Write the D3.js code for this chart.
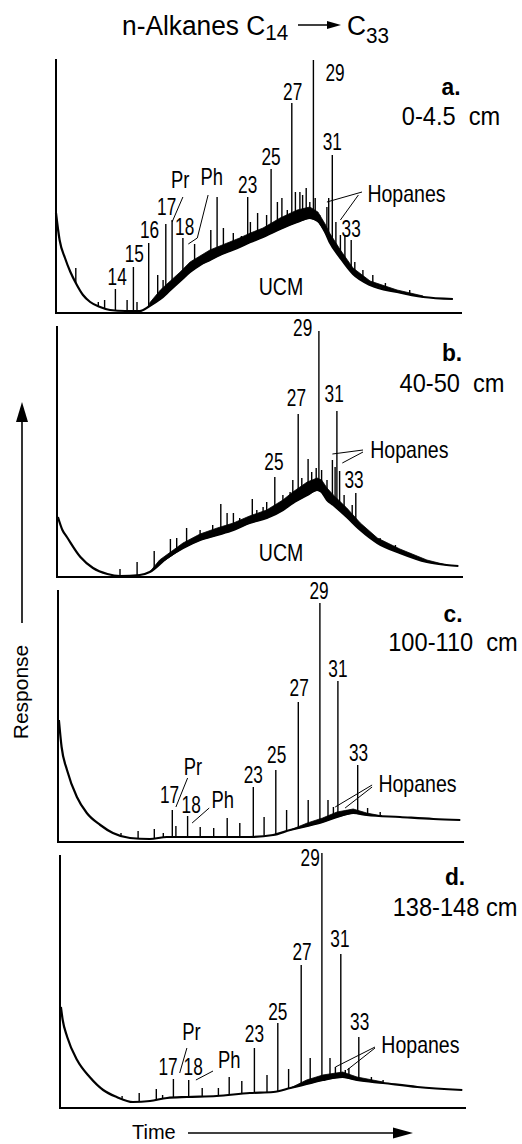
<!DOCTYPE html>
<html>
<head>
<meta charset="utf-8">
<script src="https://cdn.jsdelivr.net/npm/d3@7"></script>
<style>
body { margin: 0; background: #fff; }
svg { display: block; }
text { font-family: "Liberation Sans", Arial, Helvetica, sans-serif; fill: #000; white-space: pre; }
</style>
</head>
<body>
<svg id="chart" width="522" height="1144"></svg>
<script>
// panel names and core depths
var panelLetters = ["a", "b", "c", "d"];
var panelDepths = ["0-4.5  cm", "40-50  cm", "100-110  cm", "138-148 cm"];

// baseline / UCM hump of each trace: [time (min), response (%)]
var baselineA = [[0,40.0],[0.4,29.2],[1.0,22.0],[1.6,16.4],[2.2,12.0],[3.0,7.2],[3.8,4.4],[4.9,2.4],[6.0,1.2],[7.7,0.8],[9.3,0.8],[10.4,2.8],[11.6,5.6],[12.7,9.2],[13.8,12.8],[14.9,16.4],[16.0,19.2],[17.1,21.2],[18.2,23.2],[19.3,24.8],[20.4,26.4],[21.6,28.4],[23.0,30.4],[24.9,33.6],[26.8,36.4],[28.2,38.0],[29.1,36.8],[29.9,32.4],[30.4,28.4],[31.6,22.0],[33.0,15.6],[34.9,11.2],[37.9,8.4],[40.8,6.4],[44.1,5.6]];
var baselineB = [[0.1,24.0],[0.6,18.8],[1.1,16.0],[2.6,8.0],[4.0,3.6],[5.6,1.2],[7.0,0.4],[9.2,0.8],[10.3,2.0],[12.2,7.6],[14.0,11.6],[15.9,14.8],[17.8,16.8],[19.6,18.8],[21.4,21.6],[23.3,23.6],[25.1,26.8],[26.2,29.6],[27.8,32.8],[28.9,34.8],[29.4,34.0],[30.0,30.8],[30.7,28.8],[32.2,24.0],[33.7,18.8],[35.6,13.6],[38.1,9.6],[41.1,6.0],[43.3,4.8],[44.6,4.4]];
var baselineC = [[0.1,48.8],[0.4,38.0],[1.0,28.8],[2.1,18.0],[3.2,11.6],[4.7,6.8],[6.1,3.6],[8.0,1.6],[10.2,1.2],[12.1,2.0],[14.3,2.0],[17.7,2.0],[21.3,2.0],[23.9,2.8],[25.8,4.8],[27.7,6.4],[29.4,8.0],[31.0,10.0],[32.8,11.6],[34.3,10.8],[38.0,10.0],[41.7,9.2],[44.7,8.8]];
var baselineD = [[0.1,40.4],[0.3,35.2],[0.8,28.4],[1.9,19.2],[3.3,12.4],[4.8,7.2],[6.3,4.4],[8.1,2.4],[10.0,2.8],[11.9,4.0],[14.1,4.4],[17.4,4.8],[21.1,6.0],[23.7,6.4],[25.6,8.0],[27.4,9.6],[29.2,11.2],[31.4,12.4],[33.0,11.2],[35.9,10.0],[39.7,8.4],[44.7,7.2]];

// top of the band of unresolved small peaks riding on the hump
var fuzzA = [[10.4,4.0],[11.6,9.2],[12.7,12.8],[13.8,16.4],[14.9,20.4],[16.0,22.8],[17.1,25.2],[18.2,26.8],[19.3,28.4],[20.4,30.0],[21.6,32.0],[23.0,34.0],[24.9,38.0],[26.8,41.2],[28.2,42.4],[29.1,40.4],[29.9,35.6],[30.4,32.0],[31.6,25.2],[33.0,18.0],[34.9,12.8],[37.9,9.2],[40.8,6.8]];
var fuzzB = [[10.3,2.0],[11.4,6.8],[14.0,13.6],[15.9,17.2],[17.8,19.6],[19.6,21.6],[21.4,24.4],[23.3,26.8],[25.1,30.8],[26.2,34.0],[27.8,38.0],[28.9,39.6],[29.4,38.8],[30.0,35.6],[30.7,32.8],[32.2,27.6],[33.7,21.6],[35.6,15.6],[38.1,11.2],[41.1,6.8],[43.3,4.8]];
var fuzzC = [[25.8,4.8],[27.7,7.6],[29.4,9.6],[31.0,12.0],[32.8,13.2],[34.3,11.6],[36.0,10.4]];
var fuzzD = [[25.6,8.0],[27.4,11.2],[29.2,13.2],[31.4,14.4],[33.0,12.4],[35.9,10.4]];

// resolved peaks: [time (min), apex response (%)]
var peaksA = [[2.2,18.0],[4.7,4.4],[5.4,5.2],[6.6,9.6],[7.9,5.2],[8.6,18.4],[9.0,4.4],[10.3,28.0],[11.3,15.2],[11.9,13.2],[12.2,35.6],[12.9,37.2],[14.1,30.0],[15.4,27.6],[17.2,33.2],[17.9,46.4],[18.6,34.0],[19.7,32.0],[20.6,30.8],[21.3,46.4],[21.6,36.4],[22.4,40.0],[23.4,39.2],[23.9,57.6],[24.6,44.4],[25.1,46.0],[25.7,41.2],[26.2,84.0],[26.6,48.4],[27.1,48.4],[27.4,47.2],[27.8,50.0],[28.2,44.4],[28.6,101.2],[28.8,46.0],[29.3,39.2],[30.1,42.4],[30.3,46.0],[30.7,63.2],[31.1,36.4],[31.6,31.2],[32.1,31.2],[32.8,29.2],[33.2,20.4],[34.1,17.2],[35.2,15.2],[36.6,12.0],[39.3,9.2]];
var peaksB = [[7.0,3.2],[8.9,6.0],[10.8,10.4],[12.6,15.2],[13.3,15.6],[14.4,19.6],[15.9,18.8],[17.3,20.8],[18.2,29.2],[18.9,25.6],[19.6,25.6],[20.3,23.6],[21.7,31.2],[22.2,26.8],[22.9,28.0],[23.3,30.0],[24.2,40.0],[25.1,32.8],[25.9,34.0],[26.2,38.8],[26.8,65.2],[27.2,39.6],[27.9,47.2],[28.3,42.0],[28.8,43.6],[29.1,98.4],[29.4,42.8],[30.0,38.8],[30.6,46.8],[30.9,44.0],[31.1,66.4],[31.4,42.4],[31.9,32.8],[32.3,26.0],[32.8,28.8],[33.2,33.6],[34.4,18.8],[35.9,15.6],[37.6,12.8],[39.2,9.6]];
var peaksC = [[7.0,3.6],[8.9,4.4],[10.7,5.2],[11.7,3.6],[12.7,12.8],[13.1,6.4],[14.4,10.4],[15.8,6.0],[17.3,5.6],[18.8,9.6],[20.2,7.6],[21.7,22.0],[22.9,10.0],[24.2,28.8],[25.4,12.8],[26.7,56.0],[27.8,16.8],[29.1,95.6],[30.0,16.8],[30.6,14.0],[31.1,64.4],[31.7,12.0],[32.1,12.8],[33.3,30.8],[34.4,13.6],[35.8,12.0]];
var peaksD = [[6.9,4.8],[8.8,6.0],[10.7,7.6],[11.4,5.2],[12.6,11.6],[14.3,11.2],[15.8,8.0],[17.6,8.0],[18.8,12.4],[20.2,10.8],[21.6,24.0],[23.0,13.2],[24.2,34.0],[25.4,15.6],[26.8,57.2],[27.8,20.0],[29.1,102.0],[30.0,20.0],[30.6,16.4],[31.2,61.6],[31.7,15.2],[32.1,16.0],[33.2,28.4],[34.6,12.4],[35.9,11.2]];

// peak labels: [text, time, response]
var labelsA = [["14",6.8,11.2],["15",8.7,20.4],["16",10.4,30.0],["17",12.3,39.2],["18",14.3,31.2],["Pr",13.8,50.0],["Ph",17.3,51.2],["23",21.3,48.0],["25",23.9,59.2],["27",26.3,85.2],["29",31.0,92.8],["31",30.7,65.2],["33",32.8,30.4],["UCM",25.0,7.2],["Hopanes",34.6,44.4]];
var labelsB = [["25",24.1,42.8],["27",26.6,68.4],["29",27.3,96.4],["31",30.8,70.0],["33",33.0,35.6],["UCM",24.9,6.4],["Hopanes",34.8,47.6]];
var labelsC = [["17",12.4,15.6],["18",14.8,11.6],["Pr",15.0,26.8],["Ph",18.3,13.6],["23",21.7,23.6],["25",24.3,31.6],["27",26.8,58.4],["29",29.0,97.2],["31",31.1,66.0],["33",33.4,32.4],["Hopanes",35.6,20.0]];
var labelsD = [["17",12.0,13.2],["18",14.8,13.2],["Pr",14.6,27.2],["Ph",18.8,16.0],["23",21.6,26.4],["25",24.2,35.2],["27",26.9,59.2],["29",27.8,96.8],["31",31.1,64.4],["33",33.3,31.2],["Hopanes",35.7,22.0]];

// leader lines from labels to peaks
var pointersA = [[[14.1,46.4],[12.9,36.4]], [[16.9,47.2],[15.7,30.0],[14.7,27.6]], [[34.0,48.4],[30.1,44.4]], [[33.6,47.2],[31.6,37.2]]];
var pointersB = [[[34.0,50.8],[30.6,49.2]], [[34.0,50.0],[31.7,45.6]]];
var pointersC = [[[14.4,25.6],[13.1,14.0]], [[16.8,13.6],[14.9,7.6]], [[34.9,22.8],[30.8,14.0]], [[34.9,22.0],[31.9,13.6]]];
var pointersD = [[[14.1,24.0],[13.3,14.0]], [[17.0,14.8],[15.1,11.2]], [[35.0,24.4],[30.6,16.4]], [[35.0,24.0],[31.9,15.2]]];

var timeMax = 45, respMax = 100;

// where each panel sits on the page
var layout = [
  {left: 56, bottom: 313, top: 59,  right: 462, letterY: 95,  depthY: 125, cx: 451},
  {left: 57, bottom: 577, top: 326, right: 463, letterY: 361, depthY: 392, cx: 452},
  {left: 58, bottom: 842, top: 590, right: 464, letterY: 622, depthY: 651, cx: 453},
  {left: 60, bottom: 1108, top: 855, right: 466, letterY: 885, depthY: 916, cx: 455}
];

var panels = [
  {base: baselineA, fuzz: fuzzA, peaks: peaksA, labels: labelsA, pointers: pointersA},
  {base: baselineB, fuzz: fuzzB, peaks: peaksB, labels: labelsB, pointers: pointersB},
  {base: baselineC, fuzz: fuzzC, peaks: peaksC, labels: labelsC, pointers: pointersC},
  {base: baselineD, fuzz: fuzzD, peaks: peaksD, labels: labelsD, pointers: pointersD}
];

var svg = d3.select("#chart");

// text squeezed horizontally, like the narrow type of the figure
function addText(g, str, x, y, size, sx, anchor, weight) {
  return g.append("text")
    .attr("transform", "translate(" + x + "," + y + ") scale(" + sx + ",1)")
    .attr("text-anchor", anchor || "middle")
    .attr("font-size", size)
    .attr("font-weight", weight || "normal")
    .text(str);
}

function squeeze(str) {
  if (/^\d+$/.test(str)) return 0.75;
  if (str == "Pr" || str == "Ph") return 0.8;
  return 0.85;
}

panels.forEach(function(p, i) {
  var L = layout[i];
  var g = svg.append("g");
  var x = d3.scaleLinear().domain([0, timeMax]).range([L.left, L.left + 405]);
  var y = d3.scaleLinear().domain([0, respMax]).range([L.bottom, L.bottom - 250]);

  // baseline response under a peak
  var bis = d3.bisector(function(d) { return d[0]; }).left;
  function baseAt(t) {
    var k = bis(p.base, t);
    if (k <= 0) return p.base[0][1];
    if (k >= p.base.length) return p.base[p.base.length - 1][1];
    var a = p.base[k - 1], b = p.base[k];
    return a[1] + (b[1] - a[1]) * (t - a[0]) / (b[0] - a[0]);
  }

  var line = d3.line()
    .x(function(d) { return x(d[0]); })
    .y(function(d) { return y(d[1]); })
    .curve(d3.curveMonotoneX);

  // band of unresolved compounds
  var band = d3.area()
    .x(function(d) { return x(d[0]); })
    .y0(function(d) { return y(baseAt(d[0])); })
    .y1(function(d) { return y(d[1]); });
  g.append("path")
    .attr("d", band(p.fuzz))
    .attr("fill", "#000")
    .attr("stroke", "#000")
    .attr("stroke-width", 0.8);

  g.append("path")
    .attr("d", line(p.base))
    .attr("fill", "none")
    .attr("stroke", "#000")
    .attr("stroke-width", 2.2)
    .attr("stroke-linejoin", "round");

  g.selectAll(".peak")
    .data(p.peaks)
    .enter()
    .append("line")
    .attr("class", "peak")
    .attr("x1", function(d) { return x(d[0]); })
    .attr("x2", function(d) { return x(d[0]); })
    .attr("y1", function(d) { return y(baseAt(d[0])); })
    .attr("y2", function(d) { return y(d[1]); })
    .attr("stroke", "#000")
    .attr("stroke-width", 1.4);

  // axes
  g.append("path")
    .attr("d", "M" + L.left + "," + L.top + "V" + L.bottom + "H" + L.right)
    .attr("fill", "none")
    .attr("stroke", "#000")
    .attr("stroke-width", 2);

  var plain = d3.line()
    .x(function(d) { return x(d[0]); })
    .y(function(d) { return y(d[1]); });
  g.selectAll(".pointer")
    .data(p.pointers)
    .enter()
    .append("path")
    .attr("class", "pointer")
    .attr("d", plain)
    .attr("fill", "none")
    .attr("stroke", "#000")
    .attr("stroke-width", 1);

  p.labels.forEach(function(d) {
    var anchor = d[0] == "Hopanes" ? "start" : "middle";
    addText(g, d[0], x(d[1]), y(d[2]), 23, squeeze(d[0]), anchor);
  });

  addText(g, panelLetters[i] + ".", L.cx, L.letterY, 24, 0.95, "middle", "bold");
  addText(g, panelDepths[i], L.cx, L.depthY, 25, 0.945, "middle");
});

// title
var title = addText(svg, "n-Alkanes C", 122, 35, 28, 0.94, "start");
title.append("tspan").attr("font-size", 22).attr("dy", 5).text("14");
svg.append("line").attr("x1", 298).attr("x2", 330).attr("y1", 25).attr("y2", 25)
  .attr("stroke", "#000").attr("stroke-width", 1.5);
svg.append("path").attr("d", "M327,21L341,25L327,29Z").attr("fill", "#000");
var title2 = addText(svg, "C", 347, 35, 28, 0.94, "start");
title2.append("tspan").attr("font-size", 22).attr("dy", 8).text("33");

// response arrow
svg.append("line").attr("x1", 22).attr("x2", 22).attr("y1", 418).attr("y2", 623)
  .attr("stroke", "#000").attr("stroke-width", 1.6);
svg.append("path").attr("d", "M22,402L28,422L16,422Z").attr("fill", "#000");
svg.append("text")
  .attr("transform", "translate(28,692) rotate(-90)")
  .attr("text-anchor", "middle")
  .attr("font-size", 21)
  .text("Response");

// time arrow
addText(svg, "Time", 132, 1139, 20, 1, "start");
svg.append("line").attr("x1", 188).attr("x2", 398).attr("y1", 1133).attr("y2", 1133)
  .attr("stroke", "#000").attr("stroke-width", 1.6);
svg.append("path").attr("d", "M413,1133L393,1127.5L393,1138.5Z").attr("fill", "#000");
</script>
</body>
</html>
